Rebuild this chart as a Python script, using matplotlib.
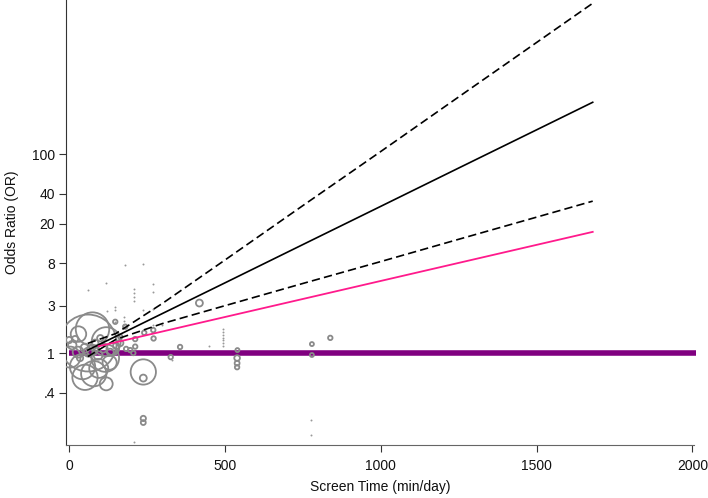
import matplotlib
matplotlib.use("Agg")
import matplotlib.pyplot as plt
import numpy as np

plt.rcParams['font.family'] = ['Liberation Sans', 'DejaVu Sans']

# ---- data ----
# fitted lines (screen time, odds ratio)
line_x = [60, 150, 300, 500, 750, 1000, 1250, 1500, 1680]
or_fit = [1.07, 1.47, 2.50, 5.07, 12.3, 29.8, 72.3, 175, 331]
or_upper = [1.25, 1.57, 3.16, 8.6, 30.3, 106, 375, 1321, 3273]
or_lower = [0.92, 1.37, 1.98, 2.99, 5.0, 8.3, 13.9, 23.2, 33.6]
pink_x = [95, 1680]
pink_or = [1.17, 16.5]
null_x = [0, 2010]
null_or = [1, 1]

# studies: screen time, odds ratio, relative weight
study_x = [61, 75, 119, 116, 43, 79, 51, 119, 3, 238, 238, 418, 539, 539, 539, 238, 238,
           10, 29, 51, 74, 93, 109, 132, 151, 164, 0, 35, 83, 61, 19, 100,
           241, 212, 271, 212, 183, 270, 148, 180, 164, 196, 206, 356, 326,
           540, 779, 779, 838, 95, 30, 130, 140]
study_or = [1.26, 1.74, 1.30, 0.89, 0.73, 0.62, 0.57, 0.49, 0.91, 0.645, 0.56, 3.18, 0.89, 0.79, 0.72, 0.22, 0.20,
            1.20, 1.02, 1.12, 1.07, 0.95, 1.12, 1.02, 1.18, 1.26, 1.35, 0.89, 1.26, 1.02, 1.38, 1.41,
            1.60, 1.38, 1.40, 1.16, 1.10, 1.70, 2.06, 1.84, 1.46, 1.07, 1.00, 1.15, 0.91,
            1.07, 1.23, 0.955, 1.42, 0.70, 1.55, 0.80, 1.10]
study_w = [810, 280, 210, 190, 160, 160, 160, 42, 110, 160, 12, 12, 8, 6, 5, 7, 6,
           18, 30, 20, 30, 20, 20, 12, 10, 10, 10, 10, 12, 20, 10, 10,
           5, 5, 5, 5, 5, 5, 5, 5, 5, 5, 5, 5, 5,
           4, 4, 4, 5, 90, 60, 50, 40]

# tiny-weight studies (dots)
dot_x = [180, 238, 119, 61, 270, 270, 209, 209, 209, 209, 122, 148, 148, 177, 177, 177, 148,
         238, 270, 270, 299, 331, 209, 449, 777, 777, 494, 494, 494, 494, 494, 494, 494]
dot_or = [7.66, 7.8, 5.0, 4.3, 4.9, 4.1, 4.4, 4.0, 3.65, 3.3, 2.64, 2.9, 2.7, 2.3, 2.1, 1.9, 2.05,
          2.7, 2.77, 1.9, 1.9, 0.85, 0.128, 1.18, 0.21, 0.15, 1.74, 1.63, 1.53, 1.43, 1.34, 1.25, 1.18]

y_ticks = [0.4, 1, 3, 8, 20, 40, 100]
y_ticklabels = ['.4', '1', '3', '8', '20', '40', '100']
x_ticks = [0, 500, 1000, 1500, 2000]

# ---- drawing ----
fig = plt.figure(figsize=(7.08, 4.98), dpi=100)
ax = fig.add_axes([66 / 708, 53 / 498, (694 - 66) / 708, 445 / 498])
ax.set_yscale('log')
ax.set_xlim(-10, 2005)
ax.set_ylim(0.119, 3530)

gray = '#8a8a8a'
ax.plot(null_x, null_or, color='#800080', lw=4.0, solid_capstyle='butt', zorder=2, clip_on=False)

# px radius -> marker size: r_px = sqrt(w); diameter in points = 2*r*0.72
sizes = [(2 * np.sqrt(w) * 0.72) ** 2 for w in study_w]
ax.scatter(study_x, study_or, s=sizes, facecolors='none', edgecolors=gray, linewidths=1.3, zorder=3)
ax.scatter(dot_x, dot_or, s=2, color='#999999', linewidths=0, zorder=3)

ax.plot(line_x, or_upper, color='black', lw=1.2, dashes=(5, 2.5), zorder=4)
ax.plot(line_x, or_fit, color='black', lw=1.2, zorder=4)
ax.plot(line_x, or_lower, color='black', lw=1.2, dashes=(5, 2.5), zorder=4)
ax.plot(pink_x, pink_or, color='#ff1a8c', lw=1.3, zorder=4)

ax.set_yticks(y_ticks)
ax.set_yticklabels(y_ticklabels)
ax.yaxis.set_minor_locator(matplotlib.ticker.NullLocator())
ax.set_xticks(x_ticks)
ax.set_xticklabels([str(v) for v in x_ticks])

for s in ['top', 'right']:
    ax.spines[s].set_visible(False)
ax.spines['left'].set_color('#333333')
ax.spines['bottom'].set_color('#666666')
ax.tick_params(axis='both', labelsize=10, length=5, width=0.8, color='#333333', labelcolor='#111111')
ax.tick_params(axis='y', pad=3)
ax.tick_params(axis='x', pad=5)

ax.set_xlabel('Screen Time (min/day)', fontsize=10, color='#111111', labelpad=5)
ax.set_ylabel('Odds Ratio (OR)', fontsize=10, color='#111111', labelpad=9)

fig.savefig('out.png', dpi=100)
